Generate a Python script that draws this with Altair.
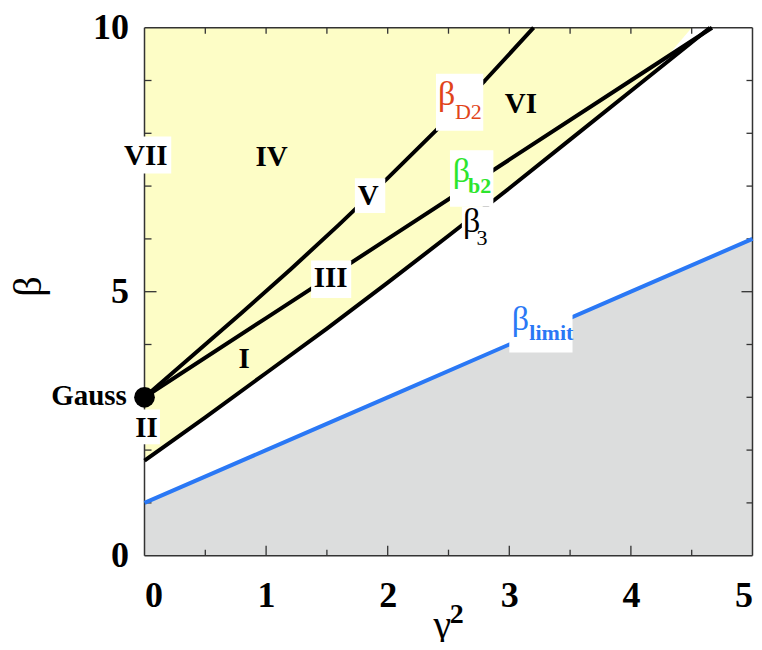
import altair as alt
import pandas as pd

# ---- curves ----
b3_x = [0, 0.5, 1.0, 1.5, 2.0, 2.5, 3.0, 3.5, 4.0, 4.65]
b3_y = [1.8, 2.62, 3.46, 4.3, 5.17, 6.06, 6.96, 7.88, 8.8, 10.0]
bD2_x = [0, 0.4, 0.8, 1.2, 1.6, 2.0, 2.4, 2.8, 3.2]
bD2_y = [3.0, 3.8, 4.6, 5.42, 6.27, 7.15, 8.06, 9.0, 10.0]
bb2_x = [0, 1, 2, 3, 4, 4.667]
bb2_y = [3, 4.5, 6, 7.5, 9, 10]
blim_x = [0, 1, 2, 3, 4, 5]
blim_y = [1, 2, 3, 4, 5, 6]

# yellow region (above beta_3)
yellow_x = [0, 0.5, 1.0, 1.5, 2.0, 2.5, 3.0, 3.5, 4.0, 4.24, 4.5]
yellow_lo = [1.8, 2.62, 3.46, 4.3, 5.17, 6.06, 6.96, 7.88, 8.8, 9.3, 10.0]

# Gauss point
gauss_x = [0.0]
gauss_y = [3.0]

# region labels
roman_text = ["VII", "IV", "V", "III", "I", "II", "VI"]
roman_x = [0.01, 1.046, 1.84, 1.53, 0.82, 0.016, 3.095]
roman_y = [7.40, 7.38, 6.64, 5.08, 3.55, 2.25, 8.39]

# white label boxes
box_x1 = [-0.2, 1.73, 1.37, -0.092, 2.397, 2.512, 2.61, 3.0]
box_x2 = [0.22, 1.98, 1.70, 0.127, 2.786, 2.869, 2.88, 3.52]
box_y1 = [7.24, 6.49, 4.88, 2.11, 8.05, 6.61, 5.85, 3.85]
box_y2 = [7.94, 7.15, 5.59, 2.77, 9.13, 7.68, 6.61, 4.68]

# curve labels (beta + subscript)
sym_x = [2.414, 2.535, 2.62, 3.02]
sym_y = [8.53, 7.08, 6.13, 4.27]
sym_col = ["#e1441a", "#2de52d", "#000000", "#2a78f5"]
sub_text = ["D2", "b2", "3", "limit"]
sub_x = [2.553, 2.66, 2.73, 3.165]
sub_y = [8.28, 6.86, 5.88, 4.08]
sub_bold = [False, True, False, True]

# ticks
xt_major = [1, 2, 3, 4]
xt_minor = [0.5, 1.5, 2.5, 3.5, 4.5]
xt_top = [0.5, 1, 1.5, 2, 2.5, 3, 3.5, 4, 4.5]
yt_major = [5]
yt_minor = [1, 2, 3, 4, 6, 7, 8, 9]
x_labels = [0, 1, 2, 3, 4, 5]
y_labels = [0, 5, 10]

W, H = 608, 528
FONT = "Liberation Serif"
FRAME = "#333333"

xscale = alt.Scale(domain=[0, 5], nice=False, zero=False)
yscale = alt.Scale(domain=[0, 10], nice=False, zero=False)
xaxis = alt.Axis(values=x_labels, format="d", ticks=False, domain=False, grid=False,
                 labelFont=FONT, labelFontWeight="bold", labelFontSize=36,
                 labelColor="black", labelPadding=23, title=None)
yaxis = alt.Axis(values=y_labels, format="d", ticks=False, domain=False, grid=False,
                 labelFont=FONT, labelFontWeight="bold", labelFontSize=36,
                 labelColor="black", labelPadding=16, title=None)


def X(f="x"):
    return alt.X(f"{f}:Q", scale=xscale, axis=xaxis)


def Y(f="y"):
    return alt.Y(f"{f}:Q", scale=yscale, axis=yaxis)


yellow = alt.Chart(pd.DataFrame({"x": yellow_x, "y": yellow_lo, "top": [10.0] * len(yellow_x)})) \
    .mark_area(color="#fdfdc6", opacity=1).encode(x=X(), y=Y(), y2="top:Q")

gray = alt.Chart(pd.DataFrame({"x": blim_x, "y": blim_y, "bot": [0.0] * len(blim_x)})) \
    .mark_area(color="#dcdddd", opacity=1).encode(x=X(), y=Y(), y2="bot:Q")

frame_v = alt.Chart(pd.DataFrame({"x": [0, 5]})).mark_rule(color=FRAME, strokeWidth=1.5).encode(x=X())
frame_h = alt.Chart(pd.DataFrame({"y": [0, 10]})).mark_rule(color=FRAME, strokeWidth=1.5).encode(y=Y())


def xticks(vals, y0, y1):
    return alt.Chart(pd.DataFrame({"x": vals})).mark_rule(color=FRAME, strokeWidth=1.3).encode(
        x=X(), y=alt.value(y0), y2=alt.value(y1))


def yticks(vals, x0, x1):
    return alt.Chart(pd.DataFrame({"y": vals})).mark_rule(color=FRAME, strokeWidth=1.3).encode(
        y=Y(), x=alt.value(x0), x2=alt.value(x1))


ticks = [
    xticks(xt_major, H, H - 10), xticks(xt_minor, H, H - 6), xticks(xt_top, 0, 6),
    yticks(yt_major, 0, 12), yticks(yt_minor, 0, 7),
    yticks(yt_major, W, W - 11), yticks(yt_minor, W, W - 6),
]

rows = []
for name, xs, ys in [("b3", b3_x, b3_y), ("bD2", bD2_x, bD2_y), ("bb2", bb2_x, bb2_y)]:
    for a, b in zip(xs, ys):
        rows.append({"s": name, "x": a, "y": b})
black_lines = alt.Chart(pd.DataFrame(rows)).mark_line(
    color="black", strokeWidth=4, strokeJoin="round").encode(x=X(), y=Y(), detail="s:N")
blue_line = alt.Chart(pd.DataFrame({"x": blim_x, "y": blim_y})).mark_line(
    color="#2a78f5", strokeWidth=4).encode(x=X(), y=Y())

boxes = alt.Chart(pd.DataFrame({"x": box_x1, "x2": box_x2, "y": box_y1, "y2": box_y2})) \
    .mark_rect(color="white").encode(x=X(), x2="x2:Q", y=Y(), y2="y2:Q")

roman = alt.Chart(pd.DataFrame({"x": roman_x, "y": roman_y, "t": roman_text})).mark_text(
    font=FONT, fontWeight="bold", fontSize=29, color="black", align="center", baseline="alphabetic"
).encode(x=X(), y=Y(), text="t:N")

syms = alt.Chart(pd.DataFrame({"x": sym_x, "y": sym_y, "c": sym_col, "t": ["β"] * 4})).mark_text(
    font=FONT, fontSize=34, align="left", baseline="alphabetic"
).encode(x=X(), y=Y(), text="t:N", color=alt.Color("c:N", scale=None))

sub_df = pd.DataFrame({"x": sub_x, "y": sub_y, "c": sym_col, "t": sub_text, "b": sub_bold})
subs_n = alt.Chart(sub_df[~sub_df.b]).mark_text(
    font=FONT, fontSize=22, align="left", baseline="alphabetic"
).encode(x=X(), y=Y(), text="t:N", color=alt.Color("c:N", scale=None))
subs_b = alt.Chart(sub_df[sub_df.b]).mark_text(
    font=FONT, fontSize=22, fontWeight="bold", align="left", baseline="alphabetic"
).encode(x=X(), y=Y(), text="t:N", color=alt.Color("c:N", scale=None))

gauss_pt = alt.Chart(pd.DataFrame({"x": gauss_x, "y": gauss_y})).mark_circle(
    color="black", size=430, opacity=1).encode(x=X(), y=Y())
gauss_txt = alt.Chart(pd.DataFrame({"x": [-0.145], "y": [2.85], "t": ["Gauss"]})).mark_text(
    font=FONT, fontWeight="bold", fontSize=29, color="black", align="right", baseline="alphabetic"
).encode(x=X(), y=Y(), text="t:N")

# axis titles
yt_beta = alt.Chart(pd.DataFrame({"t": ["β"]})).mark_text(
    font=FONT, fontSize=40, color="black", align="center", baseline="alphabetic", angle=270
).encode(x=alt.value(-104), y=alt.value(259), text="t:N")
xt_g = alt.Chart(pd.DataFrame({"x": [2.45], "y": [-1.56], "t": ["γ"]})).mark_text(
    font=FONT, fontSize=40, color="black", align="center", baseline="alphabetic"
).encode(x=X(), y=Y(), text="t:N")
xt_2 = alt.Chart(pd.DataFrame({"x": [2.51], "y": [-1.28], "t": ["2"]})).mark_text(
    font=FONT, fontSize=28, fontWeight="bold", color="black", align="left", baseline="alphabetic"
).encode(x=X(), y=Y(), text="t:N")

chart = alt.layer(
    yellow, gray, frame_v, frame_h, *ticks, black_lines, blue_line, boxes,
    roman, syms, subs_n, subs_b, gauss_pt, gauss_txt, yt_beta, xt_g, xt_2
).properties(
    width=W, height=H,
    autosize=alt.AutoSizeParams(type="none"),
    padding={"left": 136.5, "top": 19.7, "right": 1.5, "bottom": 86},
    background="white",
).configure_view(stroke=None)

chart.save("out.html", embed_options={"renderer": "svg", "actions": False})
